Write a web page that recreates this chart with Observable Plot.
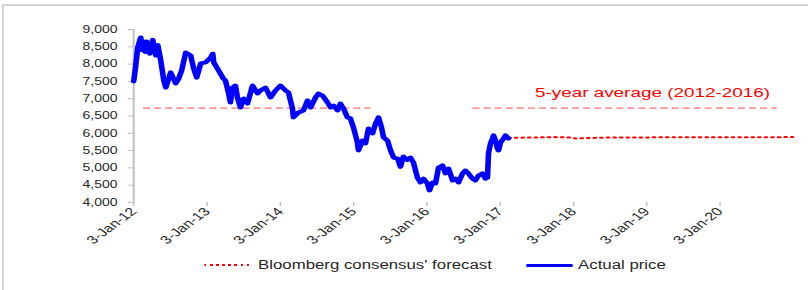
<!DOCTYPE html>
<html><head><meta charset="utf-8">
<script src="https://cdn.jsdelivr.net/npm/d3@7"></script>
<script src="https://cdn.jsdelivr.net/npm/@observablehq/plot@0.6"></script>
<style>
html,body{margin:0;padding:0;background:#fff;}
body{width:808px;height:290px;position:relative;overflow:hidden;font-family:"Liberation Sans",Arial,sans-serif;}
#frame{position:absolute;left:2px;top:4px;width:806px;height:286px;border-top:2px solid #d4d4d4;border-left:2px solid #d4d4d4;box-sizing:border-box;}
#stage{position:absolute;left:0;top:0;width:577px;height:290px;transform:scaleX(1.4);transform-origin:0 0;}
#chart{position:absolute;left:0;top:0;}
#legend{position:absolute;top:257px;left:0;width:577px;height:16px;font-size:12px;color:#262626;}
.sw{position:absolute;}
.lt{position:absolute;top:1px;white-space:nowrap;line-height:14px;}
</style>
</head><body>
<div id="frame"></div>
<div id="stage"><div id="chart"></div><div id="legend"></div></div>
<script>
const actualDates = ["2012-01-03","2012-01-12","2012-01-23","2012-02-07","2012-02-15","2012-02-22","2012-03-01","2012-03-08","2012-03-23","2012-04-07","2012-04-22","2012-05-02","2012-05-17","2012-06-01","2012-06-11","2012-07-05","2012-07-30","2012-08-14","2012-08-29","2012-09-18","2012-10-13","2012-10-28","2012-11-12","2012-12-02","2012-12-27","2013-01-21","2013-01-31","2013-02-05","2013-03-01","2013-03-25","2013-04-04","2013-04-19","2013-04-29","2013-05-09","2013-05-24","2013-06-03","2013-06-18","2013-07-03","2013-07-23","2013-08-17","2013-09-11","2013-09-26","2013-10-21","2013-11-15","2013-12-10","2014-01-04","2014-01-28","2014-02-12","2014-03-04","2014-03-09","2014-04-03","2014-04-28","2014-05-18","2014-06-02","2014-06-27","2014-07-12","2014-08-01","2014-08-26","2014-09-10","2014-09-25","2014-10-15","2014-10-29","2014-11-13","2014-12-03","2014-12-18","2015-01-02","2015-01-22","2015-01-27","2015-02-16","2015-03-03","2015-03-18","2015-04-07","2015-04-22","2015-05-07","2015-05-22","2015-06-01","2015-06-21","2015-07-06","2015-07-21","2015-08-10","2015-08-24","2015-09-08","2015-09-28","2015-10-13","2015-10-28","2015-11-17","2015-12-02","2015-12-17","2016-01-06","2016-01-16","2016-01-31","2016-02-15","2016-03-01","2016-03-21","2016-04-05","2016-04-20","2016-05-10","2016-05-25","2016-06-09","2016-06-29","2016-07-13","2016-07-28","2016-08-17","2016-09-01","2016-09-16","2016-10-06","2016-10-21","2016-10-31","2016-11-05","2016-11-15","2016-11-25","2016-11-30","2016-12-10","2016-12-20","2016-12-25","2017-01-04","2017-01-19","2017-01-29","2017-02-13"];
const actualPrices = [7500,7900,8480,8770,8400,8650,8350,8650,8300,8700,8250,8550,8100,7525,7320,7760,7440,7580,7815,8335,8250,7870,7610,8020,8050,8190,8300,8050,7815,7580,7525,7180,6890,7320,7380,7035,6745,7005,6860,7380,7150,7240,7320,7035,7240,7380,7240,7180,6720,6460,6600,6660,6950,6745,7035,7150,7090,6890,6745,6800,6660,6860,6720,6460,6430,6170,5735,5505,5790,5705,6140,5995,6280,6460,6170,5880,5790,5505,5300,5270,5030,5330,5230,5300,5155,4720,4580,4690,4550,4350,4580,4550,5010,5070,4840,4980,4635,4690,4580,4840,4925,4840,4690,4635,4780,4840,4690,4720,5415,5705,5850,5940,5790,5560,5505,5735,5850,5940,5850];
const forecastDates = ["2017-02-13","2017-06-30","2017-09-30","2017-12-15","2018-01-15","2018-03-31","2018-06-30","2020-12-31"];
const forecastPrices = [5870,5880,5890,5880,5850,5865,5880,5890];
const avgStarts = ["2012-02-22","2016-08-21"];
const avgEnds = ["2015-04-01","2020-10-15"];
const avgLevel = 6730;
const annotationText = "5-year average (2012-2016)";
const annotationDate = "2019-01-31";
const annotationLevel = 7180;
const xTickDates = ["2012-01-03","2013-01-03","2014-01-03","2015-01-03","2016-01-03","2017-01-03","2018-01-03","2019-01-03","2020-01-03"];
const yTicks = [4000,4500,5000,5500,6000,6500,7000,7500,8000,8500,9000];
const xDomain = ["2012-01-03","2021-01-03"];
const yDomain = [4000,9000];
const legendLabels = ["Bloomberg consensus' forecast","Actual price"];

const P = d3.utcParse("%Y-%m-%d");
const actual = actualDates.map((d,i)=>({date:P(d), value:actualPrices[i]}));
const forecast = forecastDates.map((d,i)=>({date:P(d), value:forecastPrices[i]}));
const avg = avgStarts.map((d,i)=>({x1:P(d), x2:P(avgEnds[i]), y:avgLevel}));
const annot = [{date:P(annotationDate), value:annotationLevel, label:annotationText}];

const chart = Plot.plot({
  width: 577, height: 250,
  marginLeft: 95, marginRight: 10.7, marginTop: 29, marginBottom: 48,
  style: {fontFamily: '"Liberation Sans", Arial, sans-serif', fontSize: "10px", color: "#262626", background: "transparent"},
  x: {type: "utc", domain: xDomain.map(P)},
  y: {domain: yDomain},
  marks: [
    Plot.ruleX([P(xDomain[0])], {stroke: "#bfbfbf", strokeWidth: 1.4}),
    Plot.axisY({ticks: yTicks, tickFormat: d3.format(","), tickSize: 3.5, tickPadding: 8, stroke: "#bfbfbf", fill: "#262626", fontSize: 10}),
    Plot.axisX({ticks: xTickDates.map(P), tickFormat: d3.utcFormat("%-d-%b-%y"), tickSize: 4, tickPadding: 3, tickRotate: -46, stroke: "#bfbfbf", fill: "#262626", fontSize: 11.5}),
    Plot.ruleY(avg, {x1: "x1", x2: "x2", y: "y", stroke: "#ff4040", strokeOpacity: 0.75, strokeWidth: 1.2, strokeDasharray: "5,2.9"}),
    Plot.line(forecast, {x: "date", y: "value", stroke: "#ff0000", strokeWidth: 2, strokeDasharray: "1.4,3.3"}),
    Plot.line(actual, {x: "date", y: "value", stroke: "#0000ff", strokeWidth: 4, strokeLinejoin: "round", strokeLinecap: "round"}),
    Plot.text(annot, {x: "date", y: "value", text: "label", fill: "#ff0000", fontSize: 13.5, textAnchor: "middle"})
  ]
});
document.getElementById("chart").appendChild(chart);

const legend = document.getElementById("legend");
const items = [
  {label: legendLabels[0], swLeft: 145.7, swW: 33, txtLeft: 184.3, style: "top:7px;height:2px;background:repeating-linear-gradient(to right,#ff0000 0 1.5px,transparent 1.5px 4.3px);"},
  {label: legendLabels[1], swLeft: 376.4, swW: 33, txtLeft: 412.9, style: "top:6.5px;height:3px;background:#0000ff;"}
];
for (const it of items) {
  const sw = document.createElement("div");
  sw.className = "sw";
  sw.style.cssText = `left:${it.swLeft}px;width:${it.swW}px;` + it.style;
  legend.appendChild(sw);
  const t = document.createElement("div");
  t.className = "lt";
  t.style.left = it.txtLeft + "px";
  t.textContent = it.label;
  legend.appendChild(t);
}
</script>
</body></html>
